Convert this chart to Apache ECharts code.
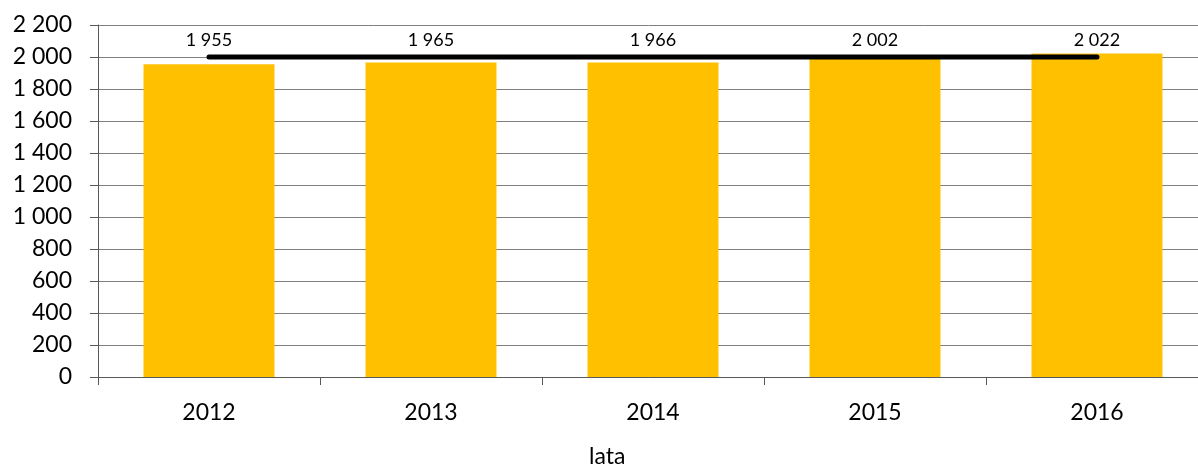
<!DOCTYPE html>
<html>
<head>
<meta charset="utf-8">
<script src="https://cdn.jsdelivr.net/npm/echarts@6/dist/echarts.min.js"></script>
<style>
html,body{margin:0;padding:0;background:#fff;}
#chart{width:1198px;height:466px;}
</style>
</head>
<body>
<div id="chart"></div>
<script>
const categories = ['2012', '2013', '2014', '2015', '2016'];
const barValues = [1955, 1965, 1966, 2002, 2022];
const lineValues = [2000, 2000, 2000, 2000, 2000];
const axisName = 'lata';

function fmt(v) {
  return String(v).replace(/\B(?=(\d{3})+(?!\d))/g, ' ');
}

const FONT = 'Lato';
const chart = echarts.init(document.getElementById('chart'));
chart.setOption({
  animation: false,
  title: {
    text: axisName,
    left: 584,
    top: 440,
    textStyle: { fontFamily: FONT, fontSize: 23, fontWeight: 'normal', color: '#000' }
  },
  grid: { left: 98, width: 1110, top: 25, bottom: 89, containLabel: false, outerBoundsMode: 'none' },
  xAxis: {
    type: 'category',
    data: categories,
    axisLine: { show: true, lineStyle: { color: '#595959', width: 1 } },
    axisTick: { show: true, length: 8, alignWithLabel: false, lineStyle: { color: '#595959' } },
    axisLabel: { fontFamily: FONT, fontSize: 23, color: '#000', margin: 24 }
  },
  yAxis: {
    type: 'value',
    min: 0,
    max: 2200,
    interval: 200,
    axisLine: { show: true, lineStyle: { color: '#595959', width: 1 } },
    axisTick: { show: true, length: 8, lineStyle: { color: '#595959' } },
    axisLabel: { fontFamily: FONT, fontSize: 23, color: '#000', margin: 26, formatter: v => fmt(v) },
    splitLine: { show: true, lineStyle: { color: '#7f7f7f', width: 1 } }
  },
  series: [
    {
      type: 'bar',
      data: barValues,
      barCategoryGap: '41%',
      itemStyle: { color: '#FFC000' },
      z: 2
    },
    {
      type: 'line',
      data: lineValues,
      symbol: 'circle',
      symbolSize: 1,
      showSymbol: true,
      itemStyle: { color: 'rgba(0,0,0,0)' },
      lineStyle: { color: '#000', width: 5, cap: 'round' },
      z: 3,
      label: {
        show: true,
        position: 'top',
        distance: 7,
        fontFamily: FONT,
        fontSize: 18,
        color: '#000',
        formatter: p => fmt(barValues[p.dataIndex])
      }
    }
  ]
});
</script>
</body>
</html>
